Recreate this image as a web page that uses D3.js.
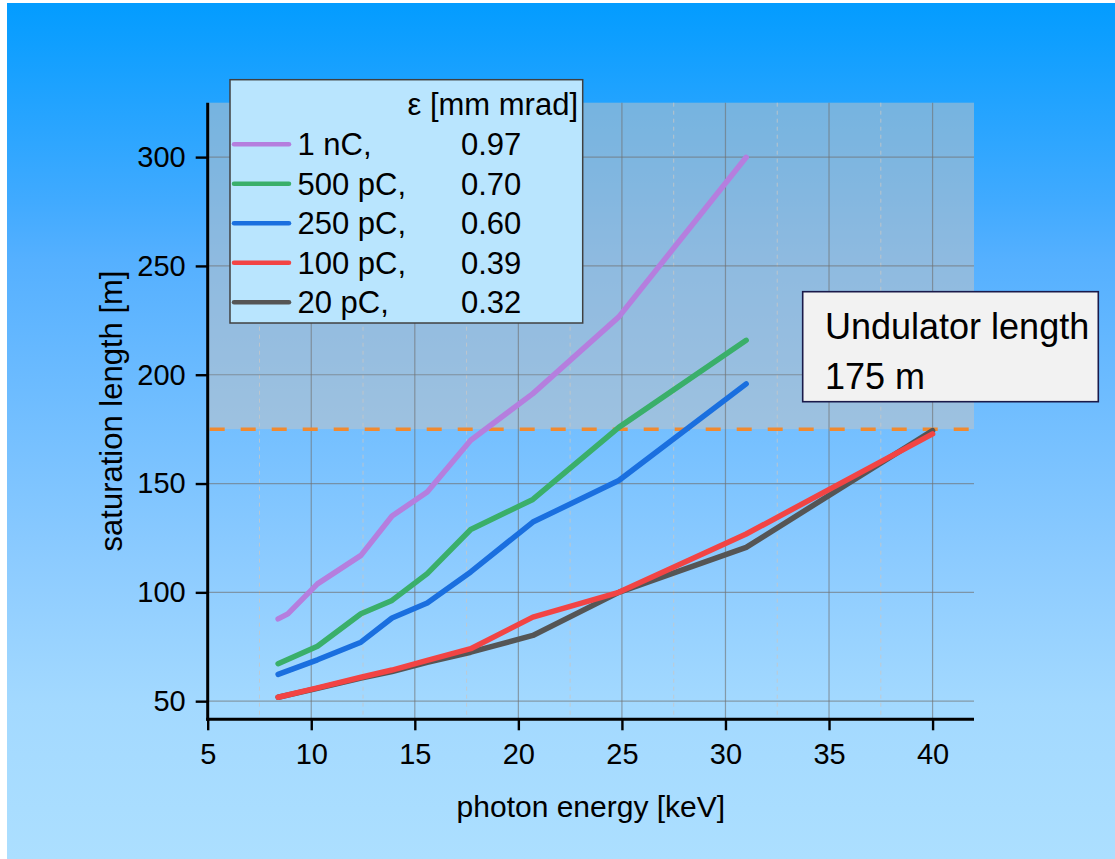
<!DOCTYPE html>
<html>
<head>
<meta charset="utf-8">
<script src="https://cdn.jsdelivr.net/npm/d3@7"></script>
<style>
  body { margin: 0; padding: 0; background: #ffffff; }
  svg { display: block; }
  text { font-family: "Liberation Sans", Arial, sans-serif; fill: #000; }
</style>
</head>
<body>
<svg id="chart" width="1115" height="859"></svg>
<script>
// ---------- DATA ----------
const seriesNames = ["1 nC,", "500 pC,", "250 pC,", "100 pC,", "20 pC,"];
const emittances = ["0.97", "0.70", "0.60", "0.39", "0.32"];
const seriesColors = ["#b57ede", "#3aaf6a", "#1a6fdf", "#f24444", "#555555"];

const energy1nC   = [8.4, 8.87, 10.3, 12.4, 13.9, 15.6, 17.7, 20.7, 24.85, 31.0];
const length1nC   = [87.8, 90.1, 103.9, 117.0, 135.1, 146.1, 169.9, 191.3, 226.6, 299.9];

const energy500pC = [8.4, 10.3, 12.4, 13.9, 15.6, 17.7, 20.7, 24.85, 31.0];
const length500pC = [67.2, 75.2, 90.2, 96.3, 108.6, 128.9, 142.7, 175.8, 215.8];

const energy250pC = [8.4, 10.3, 12.4, 13.9, 15.6, 17.7, 20.7, 24.85, 31.0];
const length250pC = [62.3, 69.0, 77.1, 88.2, 95.1, 109.4, 132.3, 151.4, 195.8];

const energy100pC = [8.4, 10.3, 12.4, 13.9, 15.6, 17.7, 20.7, 24.85, 31.0, 40.0];
const length100pC = [51.8, 56.1, 61.0, 64.3, 68.7, 74.1, 88.6, 100.0, 126.8, 172.8];

const energy20pC  = [8.4, 10.3, 12.4, 13.9, 15.6, 17.7, 20.7, 24.85, 31.0, 40.0];
const length20pC  = [51.8, 55.9, 60.6, 63.6, 67.8, 72.5, 80.2, 100.0, 120.7, 174.3];

const undulatorLength = 175;
const xTickValues = [5, 10, 15, 20, 25, 30, 35, 40];
const yTickValues = [50, 100, 150, 200, 250, 300];
const xDomain = [5, 42];
const yDomain = [41.6667, 325];

const legendTitle = "\u03b5 [mm mrad]";
const xTitle = "photon energy [keV]";
const yTitle = "saturation length [m]";
const noteLines = ["Undulator length", "175 m"];

// ---------- LAYOUT ----------
const W = 1115, H = 859;
const plot = { left: 207.7, right: 974, top: 102.7, bottom: 719.3 };

const svg = d3.select("#chart");

// background gradient
const defs = svg.append("defs");
const grad = defs.append("linearGradient")
  .attr("id", "bg").attr("x1", 0).attr("y1", 0).attr("x2", 0).attr("y2", 1);
[[0, "#039cff"], [0.23, "#40aaff"], [0.3, "#55b0ff"], [0.65, "#8ccbff"], [0.82, "#a3d9ff"], [1, "#acdfff"]]
  .forEach(([o, c]) => grad.append("stop").attr("offset", o).attr("stop-color", c));

svg.append("rect").attr("x", 0).attr("y", 0).attr("width", W).attr("height", H).attr("fill", "#ffffff");
svg.append("rect").attr("x", 7).attr("y", 3).attr("width", W - 7).attr("height", H - 3).attr("fill", "url(#bg)");

const x = d3.scaleLinear().domain(xDomain).range([plot.left, plot.right]);
const y = d3.scaleLinear().domain(yDomain).range([plot.bottom, plot.top]);

// shaded region above undulator length
svg.append("rect")
  .attr("x", x(xDomain[0])).attr("y", y(yDomain[1]))
  .attr("width", x(xDomain[1]) - x(xDomain[0]))
  .attr("height", y(undulatorLength) - y(yDomain[1]))
  .attr("fill", "rgb(196,196,196)").attr("opacity", 0.52);

// grid
const gridG = svg.append("g");
const xMinor = d3.range(7.5, 42, 5);
gridG.selectAll(".vminor").data(xMinor).enter().append("line")
  .attr("x1", d => x(d)).attr("x2", d => x(d))
  .attr("y1", plot.top).attr("y2", plot.bottom)
  .attr("stroke", "#c8c8c8").attr("stroke-width", 1).attr("stroke-dasharray", "4,4").attr("opacity", 0.8);
gridG.selectAll(".vmajor").data(xTickValues.filter(d => d > xDomain[0])).enter().append("line")
  .attr("x1", d => x(d)).attr("x2", d => x(d))
  .attr("y1", plot.top).attr("y2", plot.bottom)
  .attr("stroke", "#707070").attr("stroke-width", 1.2).attr("opacity", 0.6);
gridG.selectAll(".hmajor").data(yTickValues).enter().append("line")
  .attr("x1", plot.left).attr("x2", plot.right)
  .attr("y1", d => y(d)).attr("y2", d => y(d))
  .attr("stroke", "#707070").attr("stroke-width", 1.2).attr("opacity", 0.6);

// undulator dashed line
svg.append("line")
  .attr("x1", x(xDomain[0]) + 2).attr("x2", x(xDomain[1]))
  .attr("y1", y(undulatorLength)).attr("y2", y(undulatorLength))
  .attr("stroke", "#f08a30").attr("stroke-width", 3.5).attr("stroke-dasharray", "15,16");

// data lines
const seriesData = [
  d3.zip(energy1nC, length1nC),
  d3.zip(energy500pC, length500pC),
  d3.zip(energy250pC, length250pC),
  d3.zip(energy20pC, length20pC),
  d3.zip(energy100pC, length100pC)
];
const seriesColorOrder = [seriesColors[0], seriesColors[1], seriesColors[2], seriesColors[4], seriesColors[3]];
const line = d3.line().x(d => x(d[0])).y(d => y(d[1]));
svg.append("g").selectAll("path").data(seriesData).enter().append("path")
  .attr("d", line)
  .attr("fill", "none")
  .attr("stroke", (d, i) => seriesColorOrder[i])
  .attr("stroke-width", 5.5)
  .attr("stroke-linejoin", "round")
  .attr("stroke-linecap", "round");

// axes
const fontTick = "29px";
const xAxisG = svg.append("g").attr("transform", `translate(0,${plot.bottom})`);
xAxisG.call(d3.axisBottom(x).tickValues(xMinor).tickSize(5).tickFormat(""));
xAxisG.call(d3.axisBottom(x).tickValues(xTickValues).tickSize(11).tickPadding(13).tickFormat(d3.format("d")));
xAxisG.select(".domain").remove();
xAxisG.selectAll("line").attr("stroke", "#000").attr("stroke-width", 2.4);
xAxisG.selectAll("text").style("font-size", fontTick).attr("fill", "#000")
  .style("font-family", "'Liberation Sans', Arial, sans-serif");

const yMinor = d3.range(0, 35).map(i => yDomain[0] + i * 50 / 6).filter(v => v <= yDomain[1] + 0.01);
const yAxisG = svg.append("g").attr("transform", `translate(${plot.left},0)`);
yAxisG.call(d3.axisLeft(y).tickValues(yMinor).tickSize(6).tickFormat(""));
yAxisG.call(d3.axisLeft(y).tickValues(yTickValues).tickSize(12).tickPadding(10).tickFormat(d3.format("d")));
yAxisG.select(".domain").remove();
yAxisG.selectAll("line").attr("stroke", "#000").attr("stroke-width", 2.4);
yAxisG.selectAll("text").style("font-size", fontTick).attr("fill", "#000")
  .style("font-family", "'Liberation Sans', Arial, sans-serif");

// axis lines
svg.append("line").attr("x1", plot.left - 1.5).attr("x2", plot.right)
  .attr("y1", plot.bottom).attr("y2", plot.bottom).attr("stroke", "#000").attr("stroke-width", 3);
svg.append("line").attr("x1", plot.left).attr("x2", plot.left)
  .attr("y1", plot.top).attr("y2", plot.bottom + 1.5).attr("stroke", "#000").attr("stroke-width", 3);

// axis titles
svg.append("text").attr("x", (plot.left + plot.right) / 2).attr("y", 816.7)
  .attr("text-anchor", "middle").style("font-size", "30px").text(xTitle);
svg.append("text")
  .attr("transform", `translate(122.3,${(plot.top + plot.bottom) / 2}) rotate(-90)`)
  .attr("text-anchor", "middle").style("font-size", "31px").text(yTitle);

// legend
const lg = svg.append("g");
lg.append("rect").attr("x", 230).attr("y", 79.7).attr("width", 352.7).attr("height", 243.3)
  .attr("fill", "#b9e5fe").attr("stroke", "#404040").attr("stroke-width", 1.5);
lg.append("text").attr("x", 578).attr("y", 115).attr("text-anchor", "end")
  .style("font-size", "31px").text(legendTitle);
const rowY = i => 155 + i * 39.5;
seriesNames.forEach((name, i) => {
  lg.append("line").attr("x1", 234).attr("x2", 289)
    .attr("y1", rowY(i) - 10.7).attr("y2", rowY(i) - 10.7)
    .attr("stroke", seriesColors[i]).attr("stroke-width", 4.5).attr("stroke-linecap", "round");
  lg.append("text").attr("x", 297.5).attr("y", rowY(i)).style("font-size", "31px").text(name);
  lg.append("text").attr("x", 461).attr("y", rowY(i)).style("font-size", "31px").text(emittances[i]);
});

// note box
const nb = svg.append("g");
nb.append("rect").attr("x", 802.7).attr("y", 291.7).attr("width", 295.6).attr("height", 110)
  .attr("fill", "#f2f2f2").attr("stroke", "#1a1a4a").attr("stroke-width", 1.6);
noteLines.forEach((t, i) => {
  nb.append("text").attr("x", 825).attr("y", 339.3 + i * 49.7).style("font-size", "36px").text(t);
});
</script>
</body>
</html>
